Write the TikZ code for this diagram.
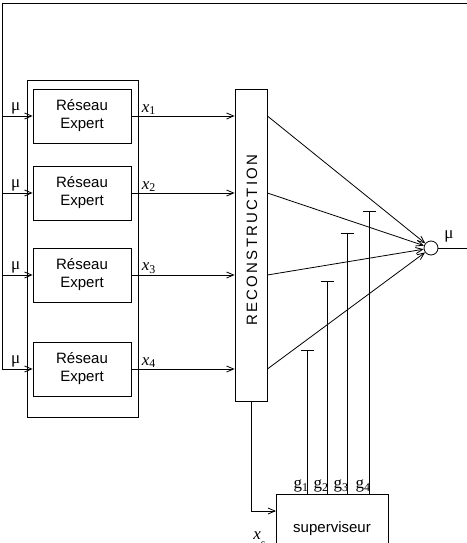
\documentclass[tikz,border=0pt]{standalone}
\usepackage{fontspec}
\setmainfont{Liberation Serif}
\setsansfont{Liberation Sans}
\newfontfamily\recfont{Liberation Sans}[LetterSpace=15]
\newcommand{\vx}[1]{\textit{x}\textsubscript{#1}}
\usetikzlibrary{arrows.meta}

\begin{document}
\begin{tikzpicture}[x=1pt,y=-1pt,line width=0.8pt,
  expert/.style={draw, minimum width=98pt, minimum height=54pt, inner sep=0pt,
    align=center, font=\sffamily\fontsize{15}{18}\selectfont},
  lbl/.style={inner sep=1pt, font=\fontsize{17}{17}\selectfont},
  fl/.style={-{Straight Barb[length=7pt,width=6pt]}},
  gate/.style={-{Bar[width=13pt]}}]
\useasboundingbox (0,0) rectangle (466,543);

% bank of experts
\node[draw, minimum width=111pt, minimum height=337pt] (bank) at (82.5,248.5) {};
\foreach \i/\y in {1/116,2/193,3/275,4/369}
  \node[expert] (e\i) at (82,\y) {Réseau\\Expert};

% reconstruction, sum, supervisor
\node[draw, minimum width=32pt, minimum height=312pt] (rec) at (251,245) {};
\node[rotate=90, inner sep=0pt, font=\recfont\fontsize{15}{15}\selectfont] (rectxt) at (252,240) {RECONSTRUCTION};
\node[draw, circle, minimum size=14pt, inner sep=0pt] (sum) at (431,248) {};
\node[lbl] (muout) at (449,236) {μ};
\node[draw, minimum width=112pt, minimum height=70pt, font=\sffamily\fontsize{15}{18}\selectfont] (superv) at (332,529) {superviseur};

% feedback loop
\coordinate (fbr) at (472,248);
\coordinate (fbl) at (2,3);
\draw (sum) -- (fbr) |- (fbl) -- (e4.west -| fbl);

\foreach \i in {1,...,4} {
  \draw[fl] (e\i.west -| fbl) -- node[lbl, pos=0.45, above] {μ} (e\i.west);
  \draw[fl] (e\i.east) -- (e\i.east -| rec.west);
  \node[lbl, anchor=south west, xshift=9pt] at (e\i.east) {\vx{\i}};
  \draw[fl] (e\i.east -| rec.east) -- (sum);
}

% gates
\foreach \i/\x/\t in {1/307/350,2/327/281,3/347/233,4/369/211} {
  \coordinate (g\i) at (\x,\t);
  \draw[gate] (g\i |- superv.north) -- (g\i);
  \node[lbl, anchor=south east, xshift=3pt] at (g\i |- superv.north) {g\textsubscript{\i}};
}

\coordinate (sin) at (276,511);
\draw[fl] (rec.south) |- (sin);
\node[lbl, anchor=base west] (xs) at (252,539) {\textit{x}\raisebox{-8pt}{\fontsize{12}{12}\selectfont s}};
\end{tikzpicture}
\end{document}
